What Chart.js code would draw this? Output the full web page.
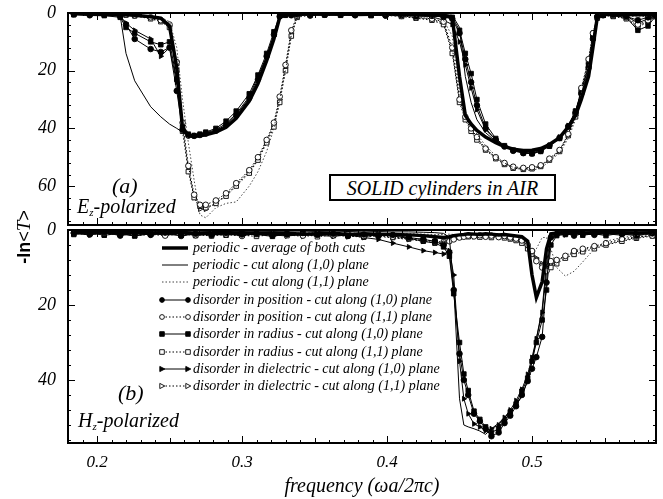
<!DOCTYPE html>
<html>
<head>
<meta charset="utf-8">
<title>SOLID cylinders in AIR</title>
<style>
  body { margin: 0; background: #fff; }
  #wrap { position: relative; width: 663px; height: 499px; overflow: hidden; }
  canvas { position: absolute; left: 0; }
  #chartA { top: 0; }
  #chartB { top: 215px; }
  .lbl { position: absolute; font-family: "Liberation Serif", "DejaVu Serif", serif; font-style: italic;
         color: #000; white-space: nowrap; line-height: 1; z-index: 5; }
  .lbl sub { font-size: 55%; vertical-align: -0.25em; }
  #box { left: 329px; top: 174px; width: 223px; height: 23px; border: 2px solid #000; background: #fff;
         font-size: 20px; text-align: center; line-height: 24px; }
  #ytitle { position: absolute; left: 24px; top: 237px; transform: translate(-50%, -50%) rotate(-90deg);
            white-space: nowrap; z-index: 5; font-family: "Liberation Sans", Arial, sans-serif; font-size: 18px; }
  #ytitle b { font-weight: bold; }
  #ytitle i { font-family: "Liberation Serif", serif; font-style: italic; font-size: 19px; }
</style>
</head>
<body>
<div id="wrap">
  <canvas id="chartA" width="663" height="235"></canvas>
  <canvas id="chartB" width="663" height="284"></canvas>
  <div class="lbl" style="left:112px; top:175px; font-size:22px;">(a)</div>
  <div class="lbl" style="left:77px; top:196px; font-size:20px;">E<sub>z</sub>-polarized</div>
  <div class="lbl" style="left:118px; top:382px; font-size:22px;">(b)</div>
  <div class="lbl" style="left:78px; top:410px; font-size:20px;">H<sub>z</sub>-polarized</div>
  <div class="lbl" id="box">SOLID cylinders in AIR</div>
  <div id="ytitle"><b>-ln</b>&lt;<i>T</i>&gt;</div>
</div>

<script src="https://cdn.jsdelivr.net/npm/chart.js"></script>
<script>
  // frequency grids (wa/2pi c)
  const freqA = [0.184,0.195,0.205,0.216,0.220,0.226,0.237,0.244,0.250,0.255,0.259,0.263,0.267,0.271,0.275,0.282,0.289,0.296,0.305,0.311,0.317,0.322,0.326,0.330,0.334,0.338,0.347,0.357,0.368,0.378,0.389,0.399,0.410,0.420,0.431,0.439,0.445,0.450,0.454,0.458,0.462,0.468,0.475,0.481,0.487,0.494,0.500,0.506,0.512,0.519,0.525,0.530,0.534,0.539,0.542,0.545,0.549,0.556,0.565,0.573,0.580,0.585];
  const freqB = [0.184,0.195,0.205,0.216,0.226,0.237,0.247,0.258,0.268,0.279,0.289,0.300,0.310,0.321,0.331,0.342,0.352,0.363,0.373,0.384,0.394,0.404,0.415,0.425,0.433,0.439,0.443,0.446,0.450,0.453,0.456,0.460,0.464,0.468,0.472,0.477,0.481,0.485,0.489,0.493,0.497,0.500,0.503,0.507,0.510,0.513,0.517,0.523,0.529,0.535,0.543,0.551,0.562,0.572,0.583];

  // (a) Ez-polarized, -ln<T>
  const perAvgA = [0.3,0.4,0.5,0.4,0.6,0.8,1.3,1.8,4.5,19,40,42.5,42.8,42.6,42.2,41.3,39.6,36.5,30.5,24.5,16.5,9,1.5,0.5,0.4,0.4,0.3,0.4,0.3,0.5,0.4,0.3,0.4,0.5,0.6,0.8,1.5,22,35.5,38.5,40.7,43,45,46.3,47.2,47.7,47.6,47,45.6,43.2,39.5,35.5,30,22,12,1.5,0.5,0.4,0.5,0.6,0.5,0.4];
  const per10A = [0.2,0.2,0.3,1.0,14,23.5,32.5,36,38.5,40,41.3,42.3,42.8,42.6,42.2,41.3,39.6,36.5,30.5,24.5,16.5,9,1.5,0.4,0.3,0.3,0.2,0.3,0.2,0.3,0.3,0.2,0.3,0.3,0.4,0.5,0.8,5,22,31,37,41.5,44.5,46.3,47.5,48,48,47.3,45.8,43.2,39.5,35,29,20,10,1.5,0.4,0.3,0.3,0.4,0.3,0.3];
  const per11A = [0.3,0.3,0.4,0.4,0.5,0.6,1.0,1.5,3,12,30,45,58,70,71,67.5,66,65.5,60,55,48,40,30,20,8,1.5,0.6,0.5,0.4,0.5,0.6,0.8,1.0,1.2,1.5,2.5,8,27,34,38.5,42,46,49.5,52,53.5,54.5,54.5,53.8,51.5,48.5,43.5,37,28,18,9,2,0.6,0.5,0.8,1.5,1.0,0.6];
  const pos10A = [0.4,0.8,0.5,1.2,4,9,12.5,13.5,12,27,40.5,42.5,42.6,42.3,41.8,40.8,38.8,35.5,29.5,23,15,7.5,1.2,0.6,0.8,0.5,0.9,0.6,0.5,0.8,0.6,0.9,0.7,1.1,1.0,1.4,2,7,16,24,32,40,44,46.3,47.8,48.6,48.7,47.8,46,43.3,39.3,34.5,28,19,9,1.2,0.8,0.6,1.2,2.5,1.5,0.8];
  const pos11A = [0.3,0.5,0.4,0.6,0.5,0.8,1.5,2.5,4,17,38,53,63,66.5,66.5,65,62.5,59,54.5,50,44,38,29,18,6,1,0.5,0.6,0.4,0.7,0.5,0.8,1.0,1.5,2,3,12,30,36,40,43,47,50,52,53.3,53.7,53.5,52.8,50.5,47.5,42,35,26,16,7,1.5,0.6,0.9,1.5,4,2.5,1];
  const rad10A = [0.6,0.3,0.9,1.5,5,7,10,11,10,23,39.5,42,42.5,42,41.3,40,37.5,34,28,21.5,14,6.5,1,0.8,0.5,0.9,0.4,0.7,0.8,0.5,0.9,0.6,1.0,0.8,1.2,1.0,1.5,6,14,21,30,38.5,43.5,46,47.5,48.5,48.8,48,46.2,43.5,39.5,34,27.5,18,8,1.5,0.7,1.0,1.5,6,4.5,1.2];
  const rad11A = [0.5,0.4,0.6,0.5,0.7,1.0,2,3,5,20,41,55,64,67,67.5,66,63.5,60,55.5,51,45,39.5,31,20,8,1.5,0.7,0.5,0.6,0.5,0.8,0.6,1.2,1.8,2.5,4,14,31,37,41,44,47.5,50.5,52.5,53.8,54.2,54,53.2,51,48,42.5,36,27,17,7.5,1.8,0.8,1.2,2,5,3,1.2];
  const die10A = [0.5,0.6,0.4,1.0,3.5,6,9,15,12,24,39,42,42.5,42.1,41.5,40.5,38.3,35,29,22,15,8,1.4,0.6,0.7,0.4,0.6,0.5,0.7,0.6,0.5,0.8,0.6,0.9,1.3,2.5,4,10,18,26,33.5,40.5,44,46.2,47.6,48.3,48.5,47.5,45.8,43,39,34,27,18.5,8.5,1.3,0.6,0.8,1.0,3.5,2,1];
  const die11A = [0.4,0.6,0.5,0.4,0.6,0.9,1.8,2.8,4.5,18,39,54,64,68,68,66,63,59.5,55,50.5,44.5,38.5,30,19,7,1.2,0.6,0.4,0.7,0.6,0.7,0.9,1.1,1.6,2.2,3.5,13,30,36.5,40.5,43.5,47.2,50.2,52.3,53.5,54,53.8,53,50.8,47.8,42.3,35.5,26.5,16.5,7,1.6,0.7,1.0,1.8,4.5,2.8,1.1];

  // (b) Hz-polarized, -ln<T>
  const perAvgB = [0.5,0.6,0.5,0.7,0.6,0.8,0.7,0.6,0.9,0.8,0.7,0.9,0.8,1.0,0.9,1.1,1.0,0.9,1.2,1.0,1.1,1.2,1.3,1.5,1.8,2,1.8,1.5,1.3,1.2,1.0,1.1,1.2,1.0,1.1,1.3,1.2,1.4,1.6,1.8,3,12,18,13.8,5,1,0.8,0.7,0.6,0.8,0.7,0.6,0.7,0.8,0.7];
  const per10B = [0.3,0.3,0.4,0.3,0.4,0.3,0.4,0.3,0.3,0.4,0.3,0.4,0.3,0.4,0.3,0.3,0.4,0.3,0.4,0.3,0.4,0.5,0.5,0.6,0.7,0.9,2,15,45,52,52.5,53,53.6,54.5,53,51.5,50,48.5,46.5,44.5,40,35,29,21,9,1,0.4,0.3,0.4,0.3,0.3,0.4,0.3,0.3,0.3];
  const per11B = [0.4,0.5,0.4,0.5,0.6,0.5,0.6,0.5,0.6,0.7,0.6,0.7,0.6,0.8,0.7,0.8,0.7,0.9,0.8,0.9,1.0,0.9,1.0,1.1,1.2,1.2,1.1,1.2,1.3,1.2,1.3,1.2,1.3,1.4,1.3,1.4,1.5,1.4,1.5,1.6,4,7,5,2,2,5,10,12.3,11,8.5,5,3,2,1.5,1];
  const pos10B = [0.8,1.2,0.6,1.5,0.9,1.3,0.7,1.6,1.0,1.4,0.8,1.2,0.9,1.5,1.1,0.8,1.3,1.0,1.6,1.2,1.5,1.3,2,2.5,3,4,6,16,33,40,44,49,51,53,55,54,51.5,49.5,47,44,40.3,37,33.9,28.5,14,2,1.2,0.9,1.5,1.0,1.3,0.8,1.1,1.5,0.9];
  const pos11B = [0.8,1.1,0.7,1.3,0.9,1.2,1.5,1.0,1.4,0.8,1.2,1.6,1.0,1.3,1.1,1.5,0.9,1.4,1.2,1.6,1.3,1.8,2.2,2.5,3.2,3.7,3,2.5,2,1.8,1.5,1.7,1.4,1.8,1.5,1.9,1.6,2,2.3,2.8,4,5.6,8.3,10,10.9,8.3,8,6.9,5.6,5,4.3,3.5,2.4,1.8,1.5];
  const rad10B = [1.2,0.7,1.4,0.9,1.6,1.0,1.3,0.8,1.5,1.1,1.4,0.9,1.2,1.7,1.0,1.3,0.9,1.5,1.1,1.8,1.2,1.6,2.2,3,3.5,4.5,7,17,30,38.4,42.8,48.3,50.5,52.5,54,53,51,48.5,46.4,43,39.5,35,30,24,16,4,1.5,1.2,0.8,1.4,1.0,1.5,0.8,1.2,1.0];
  const rad11B = [1.0,0.7,1.3,0.9,1.5,1.1,0.8,1.4,1.2,1.6,1.0,1.4,1.7,1.2,1.5,1.0,1.8,1.3,1.6,1.9,1.5,2,2.4,2.8,3,3.2,2.6,2.2,1.9,1.6,1.8,1.5,1.9,1.6,2,1.7,2.1,2.4,2.8,3.5,5,6.5,8,9.5,10.5,10,9,7.5,6.5,5.8,5,4,3,2.2,1.6];
  const die10B = [0.9,1.3,0.8,1.1,1.5,0.7,1.2,1.4,0.9,1.3,1.1,1.5,1.0,1.3,1.6,1.2,1.4,1.7,1.3,2,2.5,3.5,4.5,5.5,6,6.4,5.5,12,35,45,49,51.7,52.5,53.5,53,52,50,48,45.5,42.5,38.5,34,29,22,11,2,1.0,1.3,1.1,0.9,1.2,1.0,1.4,0.8,1.1];
  const die11B = [0.9,1.2,0.8,1.0,1.4,1.2,0.9,1.3,1.1,1.5,1.2,1.4,1.1,1.6,1.3,1.7,1.4,1.2,1.8,1.5,1.7,2.1,2.5,3,3.4,3.5,2.8,2.4,2,1.7,1.6,1.8,1.5,1.7,1.9,1.6,1.8,2.2,2.6,3.2,4.5,6,7.5,9,10,9,8.2,7,6,5.3,4.6,3.8,2.8,2,1.4];

  const seriesLabels = [
    'periodic - average of both cuts',
    'periodic - cut along (1,0) plane',
    'periodic - cut along (1,1) plane',
    'disorder in position - cut along (1,0) plane',
    'disorder in position - cut along (1,1) plane',
    'disorder in radius - cut along (1,0) plane',
    'disorder in radius - cut along (1,1) plane',
    'disorder in dielectric - cut along (1,0) plane',
    'disorder in dielectric - cut along (1,1) plane'
  ];
  const yTicksA = [0, 20, 40, 60];
  const yTicksB = [0, 20, 40];

  const looks = [
    {width: 3.5, dash: [], mark: null},
    {width: 1, dash: [], mark: null},
    {width: 1, dash: [1.5, 2], mark: null, color: '#444'},
    {width: 1, dash: [], mark: 'circle', filled: true},
    {width: 1, dash: [1.5, 2], mark: 'circle', filled: false},
    {width: 1, dash: [], mark: 'rect', filled: true},
    {width: 1, dash: [1.5, 2], mark: 'rect', filled: false},
    {width: 1, dash: [], mark: 'triangle', filled: true},
    {width: 1, dash: [1.5, 2], mark: 'triangle', filled: false}
  ];

  function pts(grid, ys) {
    return grid.map((x, i) => ({x: x, y: ys[i]}));
  }

  function makeSets(grid, list) {
    return list.map((ys, i) => {
      const lk = looks[i];
      return {
        label: seriesLabels[i],
        data: pts(grid, ys),
        showLine: true,
        borderColor: lk.color || '#000',
        borderWidth: lk.width,
        borderDash: lk.dash,
        pointStyle: lk.mark || 'circle',
        pointRadius: lk.mark ? (lk.mark === 'rect' ? 3.2 : 2.8) : 0,
        pointRotation: lk.mark === 'triangle' ? 90 : 0,
        pointBackgroundColor: lk.filled ? '#000' : '#fff',
        pointBorderColor: '#000',
        pointBorderWidth: 0.9,
        tension: 0
      };
    });
  }

  // frame and inner tick marks on all four sides
  const framePlugin = {
    id: 'frame',
    afterDraw(chart) {
      const ctx = chart.ctx, a = chart.chartArea;
      const xs = chart.scales.x, ys = chart.scales.y;
      ctx.save();
      ctx.strokeStyle = '#000';
      ctx.lineWidth = 1;
      ctx.beginPath();
      for (let k = 18; k <= 58; k++) {
        const px = Math.round(xs.getPixelForValue(k / 100)) + 0.5;
        const len = k % 10 === 0 ? 7 : (k % 5 === 0 ? 5 : 3);
        ctx.moveTo(px, a.bottom); ctx.lineTo(px, a.bottom - len);
        ctx.moveTo(px, a.top); ctx.lineTo(px, a.top + len);
      }
      for (let v = 0; v <= ys.max; v += 4) {
        const py = Math.round(ys.getPixelForValue(v)) + 0.5;
        const len = v % 20 === 0 ? 7 : 3;
        ctx.moveTo(a.left, py); ctx.lineTo(a.left + len, py);
        ctx.moveTo(a.right, py); ctx.lineTo(a.right - len, py);
      }
      ctx.stroke();
      ctx.lineWidth = 2;
      ctx.strokeRect(a.left, a.top, a.right - a.left, a.bottom - a.top);
      ctx.restore();
    }
  };

  function drawMark(ctx, mark, x, y, filled) {
    ctx.beginPath();
    if (mark === 'circle') ctx.arc(x, y, 2.4, 0, Math.PI * 2);
    else if (mark === 'rect') ctx.rect(x - 2.3, y - 2.3, 4.6, 4.6);
    else { ctx.moveTo(x + 2.8, y); ctx.lineTo(x - 2.2, y - 2.6); ctx.lineTo(x - 2.2, y + 2.6); ctx.closePath(); }
    ctx.fillStyle = filled ? '#000' : '#fff';
    ctx.fill();
    ctx.setLineDash([]);
    ctx.lineWidth = 0.9;
    ctx.strokeStyle = '#000';
    ctx.stroke();
  }

  // legend drawn inside panel (b)
  const legendRows = [248, 265, 282, 300, 317, 334, 352, 369, 386];
  const legendPlugin = {
    id: 'innerLegend',
    afterDraw(chart) {
      const ctx = chart.ctx;
      const top = 215;
      ctx.save();
      chart.data.datasets.forEach((ds, i) => {
        const y = legendRows[i] - top;
        const lk = looks[i];
        ctx.beginPath();
        ctx.setLineDash(lk.dash);
        ctx.lineWidth = lk.width;
        ctx.strokeStyle = lk.color || '#000';
        ctx.moveTo(162, y); ctx.lineTo(188, y);
        ctx.stroke();
        if (lk.mark) {
          drawMark(ctx, lk.mark, 162, y, lk.filled);
          drawMark(ctx, lk.mark, 188, y, lk.filled);
        }
        ctx.setLineDash([]);
        ctx.fillStyle = '#000';
        ctx.font = 'italic 14px "Liberation Serif", serif';
        ctx.textBaseline = 'middle';
        ctx.fillText(ds.label, 193, y);
      });
      ctx.restore();
    }
  };

  const tickFont = {family: '"Liberation Serif", serif', style: 'italic', size: 18};

  function yScale(max, list) {
    return {
      type: 'linear', reverse: true, min: 0, max: max,
      grid: {display: false, drawTicks: false}, border: {display: false},
      afterFit(s) { s.width = 68; s.paddingTop = 0; s.paddingBottom = 0; },
      ticks: {
        stepSize: 20, includeBounds: false, padding: 12, color: '#000', font: tickFont,
        callback: v => list.includes(v) ? String(v) : ''
      }
    };
  }

  new Chart(document.getElementById('chartA'), {
    type: 'scatter',
    data: {datasets: makeSets(freqA, [perAvgA, per10A, per11A, pos10A, pos11A, rad10A, rad11A, die10A, die11A])},
    options: {
      responsive: false, animation: false,
      layout: {padding: {top: 13, right: 7, bottom: 10, left: 0}},
      plugins: {legend: {display: false}, tooltip: {enabled: false}},
      scales: {
        x: {type: 'linear', min: 0.18, max: 0.5855, display: false},
        y: yScale(73.5, yTicksA)
      }
    },
    plugins: [framePlugin]
  });

  new Chart(document.getElementById('chartB'), {
    type: 'scatter',
    data: {datasets: makeSets(freqB, [perAvgB, per10B, per11B, pos10B, pos11B, rad10B, rad11B, die10B, die11B])},
    options: {
      responsive: false, animation: false,
      layout: {padding: {top: 15, right: 7, bottom: 0, left: 0}},
      plugins: {legend: {display: false}, tooltip: {enabled: false}},
      scales: {
        x: {
          type: 'linear', min: 0.18, max: 0.5855,
          grid: {display: false, drawTicks: false}, border: {display: false},
          afterFit(s) { s.height = 56; s.paddingLeft = 0; s.paddingRight = 0; },
          ticks: {stepSize: 0.1, includeBounds: false, padding: 9, color: '#000', font: {family: '"Liberation Serif", serif', style: 'italic', size: 17},
                  maxRotation: 0, callback: v => v.toFixed(1)},
          title: {display: true, text: 'frequency (\u03c9a/2\u03c0c)', color: '#000', padding: {top: 0, bottom: 0},
                  font: {family: '"Liberation Serif", serif', style: 'italic', size: 20}}
        },
        y: yScale(56.8, yTicksB)
      }
    },
    plugins: [framePlugin, legendPlugin]
  });
</script>
</body>
</html>
